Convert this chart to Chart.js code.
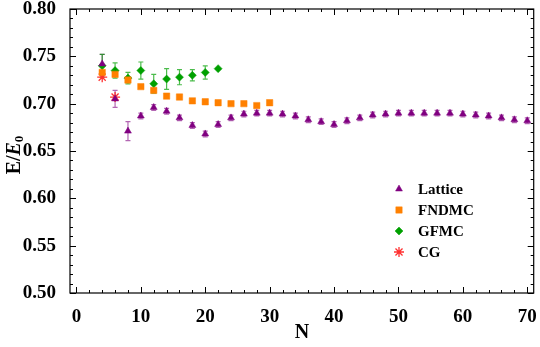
<!DOCTYPE html>
<html>
<head>
<meta charset="utf-8">
<script src="https://cdn.jsdelivr.net/npm/chart.js@4.4.0/dist/chart.umd.min.js"></script>
<style>
html, body { margin: 0; padding: 0; background: #fff; }
</style>
</head>
<body>
<canvas id="chart" width="540" height="347"></canvas>
<script>
// ---- data ----
const latticeN = [4, 6, 8, 10, 12, 14, 16, 18, 20, 22, 24, 26, 28, 30, 32, 34, 36, 38, 40, 42, 44, 46, 48, 50, 52, 54, 56, 58, 60, 62, 64, 66, 68, 70];
const latticeE = [0.742, 0.705, 0.671, 0.687, 0.696, 0.692, 0.685, 0.677, 0.668, 0.678,
                  0.685, 0.689, 0.690, 0.690, 0.689, 0.687, 0.683, 0.681, 0.678, 0.682, 0.685, 0.688, 0.689,
                  0.690, 0.690, 0.690, 0.690, 0.690, 0.689, 0.688, 0.687, 0.685, 0.683, 0.682];
const latticeErr = [0.010, 0.009, 0.010, 0.003, 0.003, 0.003, 0.003, 0.003, 0.003, 0.003,
                    0.003, 0.003, 0.003, 0.003, 0.003, 0.003, 0.003, 0.003, 0.003, 0.003, 0.003, 0.003, 0.003,
                    0.003, 0.003, 0.003, 0.003, 0.003, 0.003, 0.003, 0.003, 0.003, 0.003, 0.003];

const fndmcN = [4, 6, 8, 10, 12, 14, 16, 18, 20, 22, 24, 26, 28, 30];
const fndmcE = [0.733, 0.731, 0.725, 0.718, 0.714, 0.708, 0.707, 0.703, 0.702, 0.701, 0.700, 0.700, 0.698, 0.701];
const fndmcErr = [0, 0, 0, 0, 0, 0, 0, 0, 0, 0, 0, 0, 0.002, 0];

const gfmcN = [4, 6, 8, 10, 12, 14, 16, 18, 20, 22];
const gfmcE = [0.740, 0.735, 0.727, 0.735, 0.721, 0.726, 0.728, 0.730, 0.733, 0.737];
const gfmcErr = [0.012, 0.008, 0.006, 0.009, 0.010, 0.011, 0.008, 0.006, 0.007, 0];

const cgN = [4, 6];
const cgE = [0.728, 0.707];
const cgErr = [0, 0];

const xTicks = [0, 10, 20, 30, 40, 50, 60, 70];
const yTicks = [0.50, 0.55, 0.60, 0.65, 0.70, 0.75, 0.80];

const PURPLE = '#800080', ORANGE = '#ff8000', GREEN = '#00a000', RED = '#ff3030';
const SERIF = '"Liberation Serif", "Times New Roman", serif';

function pts(xs, ys) {
	return xs.map((x, i) => ({x: x, y: ys[i]}));
}

const series = [
	{label: 'Lattice', data: pts(latticeN, latticeE), err: latticeErr, color: PURPLE, bar: 'rgba(128,0,128,0.6)', style: 'triangle', r: 4},
	{label: 'FNDMC', data: pts(fndmcN, fndmcE), err: fndmcErr, color: ORANGE, bar: 'rgba(255,128,0,0.7)', style: 'rect', r: 4.5},
	{label: 'GFMC', data: pts(gfmcN, gfmcE), err: gfmcErr, color: GREEN, bar: 'rgba(0,160,0,0.7)', style: 'rectRot', r: 4},
	{label: 'CG', data: pts(cgN, cgE), err: cgErr, color: RED, bar: RED, style: 'star', r: 5},
];

// error bars under the markers
const errorBars = {
	id: 'errorBars',
	beforeDatasetsDraw(chart) {
		const ctx = chart.ctx;
		const xs = chart.scales.x, ys = chart.scales.y;
		ctx.save();
		chart.data.datasets.forEach((ds) => {
			ctx.strokeStyle = ds.barColor;
			ctx.lineWidth = 1.2;
			ds.data.forEach((p, i) => {
				const e = ds.err[i];
				if (!e) return;
				const px = xs.getPixelForValue(p.x);
				const top = ys.getPixelForValue(p.y + e);
				const bot = ys.getPixelForValue(p.y - e);
				ctx.beginPath();
				ctx.moveTo(px, top); ctx.lineTo(px, bot);
				ctx.moveTo(px - 2.5, top); ctx.lineTo(px + 2.5, top);
				ctx.moveTo(px - 2.5, bot); ctx.lineTo(px + 2.5, bot);
				ctx.stroke();
			});
		});
		ctx.restore();
	}
};

// Mathematica style frame: box, inward ticks, axis titles, legend
const frame = {
	id: 'frame',
	afterDraw(chart) {
		const ctx = chart.ctx;
		const a = chart.chartArea;
		const xs = chart.scales.x, ys = chart.scales.y;
		ctx.save();
		ctx.strokeStyle = '#000';
		ctx.lineWidth = 1.2;
		ctx.strokeRect(a.left, a.top, a.right - a.left, a.bottom - a.top);

		ctx.lineWidth = 1;
		ctx.beginPath();
		for (let v = 0; v <= 70; v += 2) {
			const px = Math.round(xs.getPixelForValue(v)) + 0.5;
			const len = v % 10 === 0 ? 6 : 3;
			ctx.moveTo(px, a.bottom); ctx.lineTo(px, a.bottom - len);
			ctx.moveTo(px, a.top); ctx.lineTo(px, a.top + len);
		}
		for (let k = 50; k <= 80; k++) {
			const py = Math.round(ys.getPixelForValue(k / 100)) + 0.5;
			const len = k % 5 === 0 ? 6 : 3;
			ctx.moveTo(a.left, py); ctx.lineTo(a.left + len, py);
			ctx.moveTo(a.right, py); ctx.lineTo(a.right - len, py);
		}
		ctx.stroke();

		// axis titles
		ctx.fillStyle = '#000';
		ctx.textBaseline = 'middle';
		ctx.textAlign = 'center';
		ctx.font = 'bold 20px ' + SERIF;
		ctx.fillText('N', (a.left + a.right) / 2, 333);

		ctx.save();
		ctx.translate(15, 155);
		ctx.rotate(-Math.PI / 2);
		ctx.textAlign = 'left';
		ctx.font = 'bold 20px ' + SERIF;
		const w1 = ctx.measureText('E/').width;
		ctx.font = 'italic bold 20px ' + SERIF;
		const w2 = ctx.measureText('E').width;
		ctx.font = 'bold 13px ' + SERIF;
		const w3 = ctx.measureText('0').width;
		let x0 = -(w1 + w2 + w3) / 2;
		ctx.font = 'bold 20px ' + SERIF;
		ctx.fillText('E/', x0, 0);
		ctx.font = 'italic bold 20px ' + SERIF;
		ctx.fillText('E', x0 + w1, 0);
		ctx.font = 'bold 13px ' + SERIF;
		ctx.fillText('0', x0 + w1 + w2, 5);
		ctx.restore();

		// legend
		ctx.font = 'bold 15px ' + SERIF;
		ctx.textAlign = 'left';
		chart.data.datasets.forEach((ds, i) => {
			const y = 189 + i * 21;
			ctx.fillStyle = ds.pointBackgroundColor;
			ctx.strokeStyle = ds.pointBorderColor;
			ctx.lineWidth = ds.pointBorderWidth;
			Chart.helpers.drawPoint(ctx, {pointStyle: ds.pointStyle, radius: ds.pointRadius, rotation: 0, borderWidth: ds.pointBorderWidth}, 399, y);
			ctx.fillStyle = '#000';
			ctx.fillText(ds.label, 418, y + 1);
		});
		ctx.restore();
	}
};

new Chart(document.getElementById('chart'), {
	type: 'scatter',
	data: {
		datasets: series.map((s) => ({
			label: s.label,
			data: s.data,
			err: s.err,
			barColor: s.bar,
			showLine: false,
			pointStyle: s.style,
			pointRadius: s.r,
			pointHoverRadius: s.r,
			pointBackgroundColor: s.color,
			pointBorderColor: s.color,
			pointBorderWidth: s.style === 'star' ? 1.3 : 0.5,
		}))
	},
	options: {
		responsive: false,
		animation: false,
		layout: {padding: {left: 0, right: 3, top: 9, bottom: 0}},
		plugins: {legend: {display: false}, tooltip: {enabled: false}},
		scales: {
			x: {
				type: 'linear',
				min: -1,
				max: 71,
				grid: {display: false},
				border: {display: false},
				afterBuildTicks: (scale) => { scale.ticks = xTicks.map((v) => ({value: v})); },
				afterFit: (scale) => { scale.height = 54; scale.paddingLeft = 0; scale.paddingRight = 0; },
				ticks: {
					color: '#000',
					padding: 5,
					maxRotation: 0,
					font: {family: SERIF, size: 19, weight: 'bold'},
				},
			},
			y: {
				type: 'linear',
				min: 0.5,
				max: 0.8,
				grid: {display: false},
				border: {display: false},
				afterBuildTicks: (scale) => { scale.ticks = yTicks.map((v) => ({value: v})); },
				afterFit: (scale) => { scale.width = 70; scale.paddingTop = 0; scale.paddingBottom = 0; },
				ticks: {
					color: '#000',
					padding: 6,
					font: {family: SERIF, size: 19, weight: 'bold'},
					callback: (v) => v.toFixed(2),
				},
			},
		},
	},
	plugins: [errorBars, frame],
});
</script>
</body>
</html>
